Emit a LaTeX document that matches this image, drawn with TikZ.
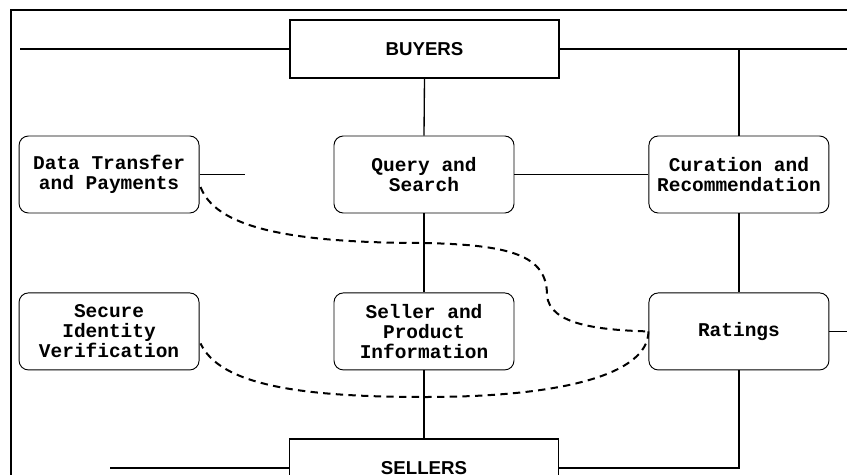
\documentclass[tikz,border=0pt]{standalone}
\usepackage{fontspec}
\setmainfont{Liberation Sans}
\newfontfamily\monofont{Liberation Mono}
\usetikzlibrary{positioning, calc}

\begin{document}
\begin{tikzpicture}[
    x=0.75pt, y=0.75pt,
    partybox/.style={
        rectangle,
        draw,
        line width=0.9pt,
        font=\fontsize{14pt}{15pt}\selectfont\bfseries,
        minimum width=201.75pt,
        minimum height=43.5pt,
        inner sep=2pt
    },
    rolebox/.style={
        rectangle,
        draw,
        rounded corners=7pt,
        line width=0.7pt,
        align=center,
        font=\monofont\fontsize{14.6pt}{15pt}\selectfont\bfseries,
        minimum width=135pt,
        minimum height=57.75pt,
        inner sep=2pt
    },
    wire/.style={line width=1pt},
    link/.style={line width=1.5pt, dash pattern=on 5.5pt off 4pt}
]
    \useasboundingbox (0,0) rectangle (847,-475);

    % --- frame ---
    \draw[line width=1.1pt] (847,-10) -- (11,-10) -- (11,-475);

    % --- parties ---
    \node[partybox] (buyers) at (424.5,-49) {BUYERS};

    % --- upper row ---
    \node[rolebox] (query) at (424,-174.5) {Query and\\Search};
    \node[rolebox, left=100.5pt of query] (transfer) {Data Transfer\\and Payments};
    \node[rolebox, right=100.5pt of query] (curation) {Curation and\\Recommendation};

    % --- lower row ---
    \node[rolebox, below=59.25pt of query] (info) {Seller and\\Product\\Information};
    \node[rolebox, below=59.25pt of transfer] (identity) {Secure\\Identity\\Verification};
    \node[rolebox, below=59.25pt of curation] (ratings) {Ratings};

    \node[partybox, below=51pt of info] (sellers) {SELLERS};

    % --- free ends ---
    \coordinate (leftend)   at (20,-49);
    \coordinate (rightend)  at (847,-49);
    \coordinate (stub)      at (245,-174.5);
    \coordinate (ratingend) at (847,-330);
    \coordinate (sellend)   at (110,-466);

    % --- solid connectors ---
    \draw[wire] (leftend |- buyers.west) -- (buyers.west);
    \draw[wire] (buyers.east) -- (rightend |- buyers.east);
    \draw[wire] (buyers.south) -- (query.north);
    \draw[wire] (curation.north |- buyers.east) -- (curation.north);
    \draw[wire] (transfer.east) -- (stub |- transfer.east);
    \draw[wire] (query.east) -- (curation.west);
    \draw[wire] (query.south) -- (info.north);
    \draw[wire] (curation.south) -- (ratings.north);
    \draw[wire] (ratings.east) -- (ratingend |- ratings.east);
    \draw[wire] (info.south) -- (sellers.north);
    \draw[wire] (ratings.south) |- (sellers.east);
    \draw[wire] (sellend |- sellers.west) -- (sellers.west);

    % --- dashed links to ratings ---
    \draw[link] ($(transfer.east)+(1,-12.5)$) .. controls (215,-225) and (280,-243) .. (425,-243)
        .. controls (510,-245) and (547,-255) .. (547,-295)
        .. controls (549,-325) and (600,-330) .. (ratings.west);
    \draw[link] (ratings.west) .. controls (648,-375) and (560,-397) .. (425,-397)
        .. controls (300,-397) and (220,-385) .. ($(identity.east)+(1,-12)$);

\end{tikzpicture}
\end{document}
